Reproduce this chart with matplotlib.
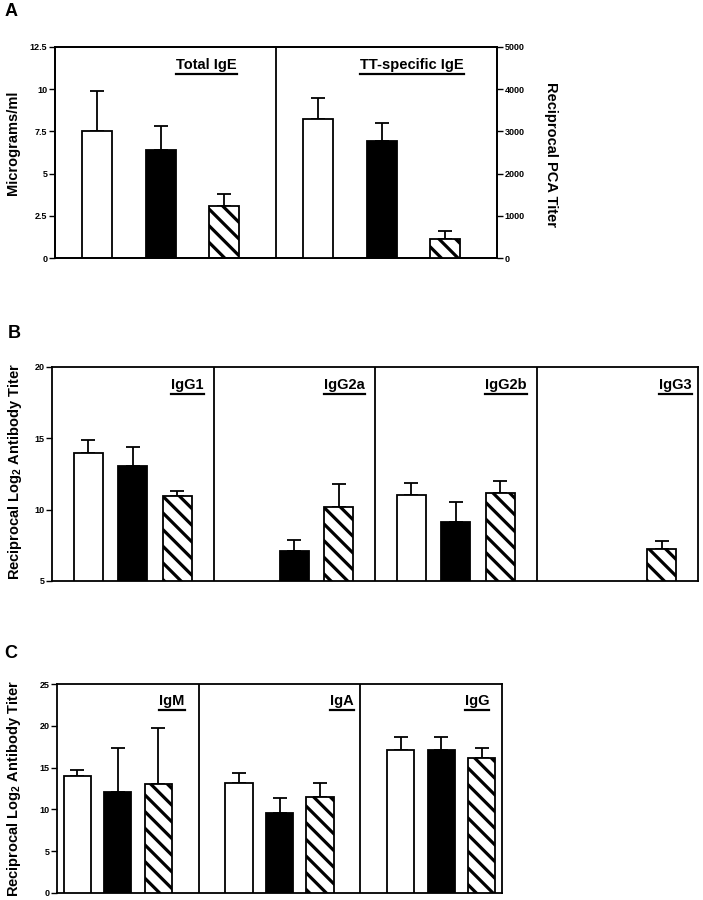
import numpy as np
import matplotlib
matplotlib.use("Agg")
import matplotlib.pyplot as plt
from matplotlib.lines import Line2D

plt.rcParams['font.family'] = ['Liberation Sans', 'DejaVu Sans']
plt.rcParams['font.weight'] = 'bold'
plt.rcParams['mathtext.fontset'] = 'custom'
plt.rcParams['mathtext.rm'] = 'Liberation Sans:bold'
plt.rcParams['mathtext.bf'] = 'Liberation Sans:bold'
plt.rcParams['mathtext.default'] = 'rm'
plt.rcParams['hatch.linewidth'] = 2.3
plt.rcParams['hatch.color'] = 'black'

nan = np.nan

# ---------------- data ----------------
# Panel A
total_ige = [7.5, 6.4, 3.1]
total_ige_err = [2.4, 1.4, 0.7]
tt_ige = [3300, 2780, 450]
tt_ige_err = [480, 420, 180]
A_titles = ["Total IgE", "TT-specific IgE"]
A_left_ticks = [0, 2.5, 5, 7.5, 10, 12.5]
A_left_labels = ["0", "2.5", "5", "7.5", "10", "12.5"]
A_right_ticks = [0, 1000, 2000, 3000, 4000, 5000]

# Panel B
B_titles = ["IgG1", "IgG2a", "IgG2b", "IgG3"]
igg1 = [14.0, 13.05, 10.95]
igg1_err = [0.85, 1.35, 0.38]
igg2a = [nan, 7.12, 10.2]
igg2a_err = [0, 0.78, 1.6]
igg2b = [11.0, 9.15, 11.15]
igg2b_err = [0.9, 1.4, 0.85]
igg3 = [nan, nan, 7.22]
igg3_err = [0, 0, 0.56]
B_ticks = [5, 10, 15, 20]

# Panel C
C_titles = ["IgM", "IgA", "IgG"]
igm = [14.05, 12.05, 13.05]
igm_err = [0.65, 5.25, 6.65]
iga = [13.1, 9.6, 11.45]
iga_err = [1.2, 1.8, 1.65]
igg = [17.1, 17.1, 16.2]
igg_err = [1.6, 1.6, 1.15]
C_ticks = [0, 5, 10, 15, 20, 25]

# bar styles for the three groups
faces = ['white', 'black', 'white']
hatches = [None, None, '\\\\']

LW = 1.3

fig = plt.figure(figsize=(7.03, 9.0), dpi=100)
W, H = 703, 900


def add_axes(l, t, r, b):
    return fig.add_axes([l / W, 1 - b / H, (r - l) / W, (b - t) / H])


def style_axes(ax):
    for s in ax.spines.values():
        s.set_linewidth(LW)
    ax.tick_params(axis='x', bottom=False, labelbottom=False)
    ax.tick_params(axis='y', direction='out', length=4, width=1.0,
                   labelsize=6.5, pad=1.5)


def draw_group(ax, x0, vals, errs, width, base):
    for s in range(3):
        v = vals[s]
        if np.isnan(v):
            continue
        ax.bar(x0 + s, v - base, width, bottom=base, facecolor=faces[s],
               edgecolor='black', linewidth=LW, hatch=hatches[s], zorder=3)
        ax.errorbar([x0 + s], [v], yerr=[[0], [errs[s]]], fmt='none',
                    ecolor='black', elinewidth=LW, capsize=5, capthick=LW,
                    zorder=2)


titles = []  # (text artist, axis, underline y frac)

# ---------------- Panel A ----------------
axA = add_axes(55, 47, 497, 258)
GA = 3.47
axA.set_xlim(-0.66, GA * 2 - 0.66)
axA.set_ylim(0, 12.5)
draw_group(axA, 0, total_ige, total_ige_err, 0.47, 0)
axA2 = axA.twinx()
axA2.set_ylim(0, 5000)
draw_group(axA2, GA, tt_ige, tt_ige_err, 0.47, 0)
style_axes(axA)
style_axes(axA2)
axA.set_yticks(A_left_ticks)
axA.set_yticklabels(A_left_labels)
axA2.set_yticks(A_right_ticks)
axA.axvline(GA - 0.66, color='black', lw=LW, zorder=4)
t = axA.text(1.72, 0.915, A_titles[0], transform=axA.get_xaxis_transform(),
             ha='center', va='center', fontsize=10.5, fontweight='bold')
titles.append((t, axA, 0.872))
t = axA.text(GA + 1.48, 0.915, A_titles[1], transform=axA.get_xaxis_transform(),
             ha='center', va='center', fontsize=10.5, fontweight='bold')
titles.append((t, axA, 0.872))
fig.text(13 / W, 1 - 143 / H, "Micrograms/ml", rotation=90, ha='center',
         va='center', fontsize=10.5, fontweight='bold')
fig.text(551 / W, 1 - 155 / H, "Reciprocal PCA Titer", rotation=270,
         ha='center', va='center', fontsize=10.5, fontweight='bold')
fig.text(11 / W, 1 - 12 / H, "A", ha='center', va='center', fontsize=13,
         fontweight='bold')

# ---------------- Panel B ----------------
axB = add_axes(52, 367, 698, 581)
GB = 3.62
axB.set_xlim(-0.81, GB * 4 - 0.81)
axB.set_ylim(5, 20)
for g, (vals, errs) in enumerate([(igg1, igg1_err), (igg2a, igg2a_err),
                                  (igg2b, igg2b_err), (igg3, igg3_err)]):
    draw_group(axB, g * GB, vals, errs, 0.65, 5)
    if g > 0:
        axB.axvline(g * GB - 0.81, color='black', lw=LW, zorder=4)
    t = axB.text((g + 1) * GB - 0.81 - (0.22 if g < 3 else 0.14), 0.916,
                 B_titles[g], transform=axB.get_xaxis_transform(), ha='right',
                 va='center', fontsize=10.5, fontweight='bold')
    titles.append((t, axB, 0.874))
style_axes(axB)
axB.set_yticks(B_ticks)
fig.text(15 / W, 1 - 472 / H, r"Reciprocal Log$_{2}$ Antibody Titer",
         rotation=90, ha='center', va='center', fontsize=10.5, fontweight='bold')
fig.text(14 / W, 1 - 334 / H, "B", ha='center', va='center', fontsize=13,
         fontweight='bold')

# ---------------- Panel C ----------------
axC = add_axes(57, 684, 502, 893)
GC = 4
axC.set_xlim(-0.5, GC * 3 - 1.5)
axC.set_ylim(0, 25)
c_offsets = [0.34, 0.17, 0.32]
for g, (vals, errs) in enumerate([(igm, igm_err), (iga, iga_err),
                                  (igg, igg_err)]):
    draw_group(axC, g * GC, vals, errs, 0.67, 0)
    if g > 0:
        axC.axvline(g * GC - 1, color='black', lw=LW, zorder=4)
    right = g * GC + 3 if g < 2 else GC * 3 - 1.5
    t = axC.text(right - c_offsets[g], 0.919, C_titles[g],
                 transform=axC.get_xaxis_transform(), ha='right', va='center',
                 fontsize=10.5, fontweight='bold')
    titles.append((t, axC, 0.876))
style_axes(axC)
axC.set_yticks(C_ticks)
fig.text(14 / W, 1 - 789 / H, r"Reciprocal Log$_{2}$ Antibody Titer",
         rotation=90, ha='center', va='center', fontsize=10.5, fontweight='bold')
fig.text(11 / W, 1 - 653 / H, "C", ha='center', va='center', fontsize=13,
         fontweight='bold')

# underlines below the sub-panel titles
fig.canvas.draw()
rend = fig.canvas.get_renderer()
for t, ax, yfrac in titles:
    bb = t.get_window_extent(rend)
    ydisp = ax.transAxes.transform((0, yfrac))[1]
    x0, y0 = fig.transFigure.inverted().transform((bb.x0, ydisp))
    x1, _ = fig.transFigure.inverted().transform((bb.x1, ydisp))
    fig.add_artist(Line2D([x0, x1], [y0, y0], color='black', lw=1.6,
                          transform=fig.transFigure))

fig.savefig("out.png", dpi=100)
